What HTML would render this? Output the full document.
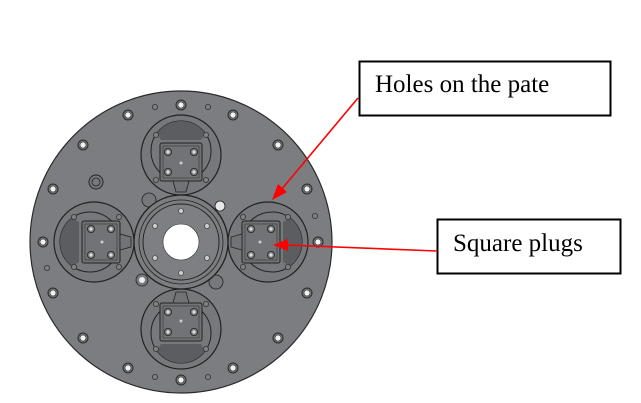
<!DOCTYPE html>
<html><head><style>
html,body{margin:0;padding:0;background:#fff;width:641px;height:403px;overflow:hidden}
svg{display:block}
text{font-family:"Liberation Serif",serif;font-size:25px;fill:#000}
</style></head><body>
<svg width="641" height="403" viewBox="0 0 641 403">
<defs>
<g id="bolt"><circle r="5" fill="#747579" stroke="#2a2a2a" stroke-width="1"/><circle r="3" fill="#f2f2f2" stroke="#333" stroke-width="0.6"/></g>
<g id="small"><circle r="2.6" fill="#7f8084" stroke="#333" stroke-width="0.8"/></g>
<g id="pocket">
<circle cx="0" cy="0" r="40" fill="#77787c" stroke="#222" stroke-width="1.2"/>
<circle cx="0" cy="-4" r="30" fill="#77787c" stroke="#222" stroke-width="1"/>
<path d="M-24,-22 A30,30 0 0 1 24,-22 L20,-15 L-20,-15 Z" fill="#5c5d61"/>
<rect x="-21" y="-12" width="42" height="38" rx="2" fill="#727377" stroke="#222" stroke-width="1"/>
<rect x="-18" y="-9" width="36" height="32" fill="none" stroke="#333" stroke-width="0.6"/>
<path d="M-8,26 L8,26 L5,37 L-5,37 Z" fill="#727377" stroke="#222" stroke-width="0.8"/>
<circle cx="-13" cy="-3" r="3.6" fill="#7d7e82" stroke="#222" stroke-width="0.8"/><circle cx="-13" cy="-3" r="1.6" fill="#ddd"/>
<circle cx="13" cy="-3" r="3.6" fill="#7d7e82" stroke="#222" stroke-width="0.8"/><circle cx="13" cy="-3" r="1.6" fill="#ddd"/>
<circle cx="-13" cy="17" r="3.6" fill="#7d7e82" stroke="#222" stroke-width="0.8"/><circle cx="-13" cy="17" r="1.6" fill="#ddd"/>
<circle cx="13" cy="17" r="3.6" fill="#7d7e82" stroke="#222" stroke-width="0.8"/><circle cx="13" cy="17" r="1.6" fill="#ddd"/>
<circle cx="0" cy="8" r="1.5" fill="#ccc"/>
<use href="#small" x="-25" y="-20"/><use href="#small" x="25" y="-20"/>
<use href="#small" x="-25" y="25"/><use href="#small" x="25" y="25"/>
</g>
</defs>
<circle cx="181" cy="242" r="151" fill="#7c7d81" stroke="#2a2a2a" stroke-width="1.2"/>
<g fill="none">
<use href="#bolt" x="181" y="105"/><use href="#bolt" x="128" y="115"/><use href="#bolt" x="233" y="115"/>
<use href="#bolt" x="83" y="145"/><use href="#bolt" x="278" y="145"/>
<use href="#bolt" x="53" y="189"/><use href="#bolt" x="307" y="189"/>
<use href="#bolt" x="43" y="242"/><use href="#bolt" x="318" y="242"/>
<use href="#bolt" x="53" y="293"/><use href="#bolt" x="307" y="293"/>
<use href="#bolt" x="83" y="338"/><use href="#bolt" x="278" y="338"/>
<use href="#bolt" x="128" y="368"/><use href="#bolt" x="233" y="368"/>
<use href="#bolt" x="181" y="380"/>
<use href="#small" x="155" y="107"/><use href="#small" x="208" y="107"/>
<use href="#small" x="315" y="216"/><use href="#small" x="47" y="268"/>
<use href="#small" x="208" y="377"/><use href="#small" x="155" y="377"/>
</g>
<circle cx="96" cy="182" r="7" fill="#77787c" stroke="#222" stroke-width="1"/>
<circle cx="96" cy="182" r="4" fill="none" stroke="#222" stroke-width="0.8"/>
<circle cx="149" cy="200" r="7" fill="#77787c" stroke="#222" stroke-width="0.8"/>
<circle cx="220" cy="206" r="5" fill="#e8e8e8" stroke="#222" stroke-width="0.8"/>
<circle cx="142" cy="280" r="6" fill="#77787c" stroke="#222" stroke-width="0.8"/>
<circle cx="142" cy="280" r="3" fill="#eee"/>
<circle cx="216" cy="282" r="7" fill="#77787c" stroke="#222" stroke-width="0.8"/>
<use href="#pocket" transform="translate(181,155)"/>
<use href="#pocket" transform="translate(181,329) rotate(180)"/>
<use href="#pocket" transform="translate(94,242) rotate(-90)"/>
<use href="#pocket" transform="translate(268,242) rotate(90)"/>
<circle cx="181" cy="242" r="47" fill="#7c7d81" stroke="#222" stroke-width="1.3"/>
<circle cx="181" cy="242" r="42" fill="none" stroke="#222" stroke-width="0.8"/>
<circle cx="181" cy="242" r="38" fill="#7e7f83" stroke="#222" stroke-width="1"/>
<circle cx="181" cy="242" r="18" fill="#fff" stroke="#333" stroke-width="0.6"/>
<g fill="#ccc" stroke="#333" stroke-width="0.6">
<circle cx="181" cy="211" r="2.5"/><circle cx="181" cy="273" r="2.5"/>
<circle cx="155" cy="226" r="2.5"/><circle cx="207" cy="226" r="2.5"/>
<circle cx="155" cy="258" r="2.5"/><circle cx="207" cy="258" r="2.5"/>
</g>
<rect x="359.5" y="61.5" width="251" height="54" fill="#fff" stroke="#000" stroke-width="2"/>
<text x="375" y="92">Holes on the pate</text>
<rect x="437.5" y="219.5" width="183" height="54" fill="#fff" stroke="#000" stroke-width="2"/>
<text x="453" y="251">Square plugs</text>
<g stroke="#f00" stroke-width="1.6" fill="#f00">
<line x1="358" y1="98" x2="281" y2="190"/>
<polygon points="272,200 278,184 287,192" stroke="none"/>
<line x1="437" y1="251" x2="286" y2="245"/>
<polygon points="273,245 288,239 288,251" stroke="none"/>
</g>
</svg>
</body></html>
